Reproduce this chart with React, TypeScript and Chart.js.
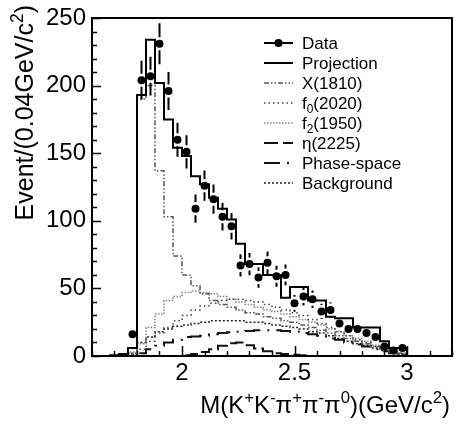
import React, { useEffect, useRef } from "react";
import { Chart, registerables } from "chart.js";

Chart.register(...registerables);

const FONT = '"Liberation Sans", Arial, Helvetica, sans-serif';

// Bin centres of M(K+K-π+π-π0) in GeV/c^2, bins 0.04 GeV wide
const massBins = [
  1.70, 1.74, 1.78, 1.82, 1.86, 1.90, 1.94, 1.98, 2.02, 2.06, 2.10, 2.14,
  2.18, 2.22, 2.26, 2.30, 2.34, 2.38, 2.42, 2.46, 2.50, 2.54, 2.58, 2.62,
  2.66, 2.70, 2.74, 2.78, 2.82, 2.86, 2.90, 2.94, 2.98, 3.02,
];
const BIN_HALF = 0.02;

// Observed events per bin
const dataCounts = [
  null, null, 16, 204, 207, 231, 196, 160, 151, 109, 126, 116,
  103, 96, 67, 68, 58, 69, 59, 60, 39, 44, 42, 33,
  34, 24, 20, 20, 17, 14, 7, 4, 6, null,
];
const dataErrors = [
  0, 0, 4.0, 14.3, 14.4, 15.2, 14.0, 12.6, 12.3, 10.4, 11.2, 10.8,
  10.1, 9.8, 8.2, 8.2, 7.6, 8.3, 7.7, 7.7, 6.2, 6.6, 6.5, 5.7,
  5.8, 4.9, 4.5, 4.5, 4.1, 3.7, 2.6, 2.0, 2.4, 0,
];

// Fit projection and its components
const projection = [
  0.5, 1.5, 6, 193, 234, 202, 175, 154, 148, 133, 127, 117,
  109, 101, 83, 68, 68, 60, 60, 43, 51, 51, 41, 41,
  29, 28, 28, 21, 21, 21, 11, 6, 6, 0,
];
const x1810 = [
  0, 0, 2, 190, 200, 137, 103, 74, 60, 52, 46, 41,
  38, 36, 34, 32, 31, 29, 28, 26, 25, 23, 21, 19,
  17, 15, 13, 11, 9, 7, 5, 3, 2, 0,
];
const f02020 = [
  0, 0, 1, 5, 11, 17, 21, 26, 30, 34, 37, 39,
  41, 42, 42, 41, 40, 38, 36, 34, 32, 30, 27, 24,
  21, 18, 15, 12, 10, 7, 5, 3, 1, 0,
];
const f21950 = [
  0, 0, 3, 9, 21, 31, 41, 44, 47, 48, 47, 46,
  44, 42, 40, 38, 36, 34, 33, 31, 29, 27, 25, 23,
  20, 18, 15, 13, 11, 8, 6, 4, 2, 0,
];
const eta2225 = [
  0, 0, 0, 0, 0, 0, 0, 0, 0.5, 1.5, 3, 5,
  7.5, 9.5, 10, 8, 5.5, 3.5, 2, 1.5, 1, 0.5, 0, 0,
  0, 0, 0, 0, 0, 0, 0, 0, 0, 0,
];
const phaseSpace = [
  0, 0, 0.5, 2, 5, 7.5, 10, 12, 14, 14.5, 15, 16,
  17, 17.5, 18, 18.5, 19, 19, 19, 18.5, 18, 17, 16, 15,
  13, 12, 10, 8.5, 7, 5, 3.5, 2, 1, 0,
];
const background = [
  0, 0, 2, 10, 14, 18, 20, 22, 23, 24, 25, 26,
  26, 26, 26, 25, 25, 24, 23, 22, 21, 20, 18, 17,
  15, 13, 11, 9, 8, 6, 4, 3, 1, 0,
];

const xLabelTicks = [2, 2.5, 3];
const yLabelTicks = [0, 50, 100, 150, 200, 250];

type Style = { color: string; width: number; dash: number[] };
const styles: Record<string, Style> = {
  projection: { color: "#000", width: 2, dash: [] },
  x1810: { color: "#555", width: 1.5, dash: [5, 2, 1.5, 2, 1.5, 2] },
  f02020: { color: "#444", width: 1.5, dash: [1.5, 3] },
  f21950: { color: "#888", width: 1.5, dash: [1.5, 1.5] },
  eta2225: { color: "#111", width: 2, dash: [14, 5] },
  phaseSpace: { color: "#111", width: 2, dash: [16, 7, 2, 7] },
  background: { color: "#222", width: 1.5, dash: [2, 2] },
};

type Part = { t: string; sup?: boolean; sub?: boolean };
const legendEntries: { parts: Part[]; key: string }[] = [
  { parts: [{ t: "Data" }], key: "data" },
  { parts: [{ t: "Projection" }], key: "projection" },
  { parts: [{ t: "X(1810)" }], key: "x1810" },
  { parts: [{ t: "f" }, { t: "0", sub: true }, { t: "(2020)" }], key: "f02020" },
  { parts: [{ t: "f" }, { t: "2", sub: true }, { t: "(1950)" }], key: "f21950" },
  { parts: [{ t: "η(2225)" }], key: "eta2225" },
  { parts: [{ t: "Phase-space" }], key: "phaseSpace" },
  { parts: [{ t: "Background" }], key: "background" },
];

const yTitle: Part[] = [{ t: "Event/(0.04GeV/c" }, { t: "2", sup: true }, { t: ")" }];
const xTitle: Part[] = [
  { t: "M(K" }, { t: "+", sup: true }, { t: "K" }, { t: "-", sup: true },
  { t: "π" }, { t: "+", sup: true }, { t: "π" }, { t: "-", sup: true },
  { t: "π" }, { t: "0", sup: true }, { t: ")(GeV/c" }, { t: "2", sup: true }, { t: ")" },
];

function histPoints(values: number[]) {
  const pts: { x: number; y: number }[] = [];
  const last = values.length - 1;
  pts.push({ x: massBins[0] - BIN_HALF, y: 0 });
  values.forEach((v, i) => pts.push({ x: massBins[i] - BIN_HALF, y: v }));
  pts.push({ x: massBins[last] + BIN_HALF, y: values[last] });
  pts.push({ x: massBins[last] + BIN_HALF, y: 0 });
  return pts;
}

function richWidth(ctx: CanvasRenderingContext2D, parts: Part[], size: number) {
  let w = 0;
  for (const p of parts) {
    const s = p.sup || p.sub ? size * 0.7 : size;
    ctx.font = `${s}px ${FONT}`;
    w += ctx.measureText(p.t).width;
  }
  return w;
}

function drawRich(ctx: CanvasRenderingContext2D, parts: Part[], x: number, y: number, size: number) {
  let cx = x;
  ctx.textAlign = "left";
  ctx.textBaseline = "alphabetic";
  for (const p of parts) {
    const s = p.sup || p.sub ? size * 0.7 : size;
    ctx.font = `${s}px ${FONT}`;
    const dy = p.sup ? -size * 0.42 : p.sub ? size * 0.25 : 0;
    ctx.fillText(p.t, cx, y + dy);
    cx += ctx.measureText(p.t).width;
  }
}

const decorations = {
  id: "decorations",
  afterDatasetsDraw(chart: any) {
    const { ctx, scales } = chart;
    const xs = scales.x;
    const ys = scales.y;
    ctx.save();
    ctx.strokeStyle = "#000";
    ctx.lineWidth = 2;
    const gap = 6.5;
    dataCounts.forEach((v, i) => {
      if (v == null) return;
      const px = xs.getPixelForValue(massBins[i]);
      const py = ys.getPixelForValue(v);
      const top = ys.getPixelForValue(v + dataErrors[i]);
      const bot = ys.getPixelForValue(Math.max(0, v - dataErrors[i]));
      ctx.beginPath();
      if (py - gap > top) {
        ctx.moveTo(px, top);
        ctx.lineTo(px, py - gap);
      }
      if (py + gap < bot) {
        ctx.moveTo(px, py + gap);
        ctx.lineTo(px, bot);
      }
      ctx.stroke();
    });
    ctx.restore();
  },
  afterDraw(chart: any) {
    const { ctx, chartArea: a, scales } = chart;
    const xs = scales.x;
    const ys = scales.y;
    ctx.save();
    ctx.fillStyle = "#000";
    ctx.strokeStyle = "#000";

    // frame
    ctx.lineWidth = 2;
    ctx.setLineDash([]);
    ctx.strokeRect(a.left, a.top, a.right - a.left, a.bottom - a.top);

    // inward tick marks
    ctx.lineWidth = 1.5;
    ctx.beginPath();
    for (let v = 0; v <= 250; v += 10) {
      const py = Math.round(ys.getPixelForValue(v)) + 0.5;
      const len = v % 50 === 0 ? 9 : 5;
      ctx.moveTo(a.left, py);
      ctx.lineTo(a.left + len, py);
    }
    for (let k = 16; k <= 32; k++) {
      const px = Math.round(xs.getPixelForValue(k / 10)) + 0.5;
      const len = k % 5 === 0 ? 10 : 5;
      ctx.moveTo(px, a.bottom);
      ctx.lineTo(px, a.bottom - len);
    }
    ctx.stroke();

    // axis titles
    const xSize = 24;
    const xw = richWidth(ctx, xTitle, xSize);
    drawRich(ctx, xTitle, 450 - xw, 413, xSize);

    const ySize = 25;
    const yw = richWidth(ctx, yTitle, ySize);
    ctx.save();
    ctx.translate(33, 5);
    ctx.rotate(-Math.PI / 2);
    drawRich(ctx, yTitle, -yw, 0, ySize);
    ctx.restore();

    // legend
    const x0 = 264;
    const x1 = 293;
    legendEntries.forEach((e, i) => {
      const cy = 43 + 20 * i;
      if (e.key === "data") {
        ctx.setLineDash([]);
        ctx.lineWidth = 2;
        ctx.strokeStyle = "#000";
        ctx.beginPath();
        ctx.moveTo(x0, cy);
        ctx.lineTo(x1, cy);
        ctx.stroke();
        ctx.beginPath();
        ctx.arc((x0 + x1) / 2, cy, 4, 0, Math.PI * 2);
        ctx.fill();
      } else {
        const st = styles[e.key];
        ctx.setLineDash(st.dash);
        ctx.lineWidth = st.width;
        ctx.strokeStyle = st.color;
        ctx.beginPath();
        ctx.moveTo(x0, cy);
        ctx.lineTo(x1, cy);
        ctx.stroke();
      }
      ctx.setLineDash([]);
      ctx.fillStyle = "#000";
      drawRich(ctx, e.parts, 302, cy + 6, 17);
    });
    ctx.restore();
  },
};

function histDataset(label: string, values: number[], key: string, order: number) {
  const st = styles[key];
  return {
    label,
    data: histPoints(values),
    stepped: true,
    borderColor: st.color,
    borderWidth: st.width,
    borderDash: st.dash,
    pointRadius: 0,
    fill: false,
    order,
  };
}

export default function App() {
  const ref = useRef<HTMLCanvasElement>(null);

  useEffect(() => {
    document.body.style.margin = "0";
    const dataPoints = dataCounts
      .map((v, i) => (v == null ? null : { x: massBins[i], y: v }))
      .filter((p) => p !== null);

    const chart = new Chart(ref.current!, {
      type: "line",
      data: {
        datasets: [
          {
            label: "Data",
            data: dataPoints as any,
            showLine: false,
            pointRadius: 4,
            pointBackgroundColor: "#000",
            pointBorderColor: "#000",
            pointBorderWidth: 0,
            order: 0,
          },
          histDataset("Projection", projection, "projection", 1),
          histDataset("X(1810)", x1810, "x1810", 2),
          histDataset("f0(2020)", f02020, "f02020", 3),
          histDataset("f2(1950)", f21950, "f21950", 4),
          histDataset("η(2225)", eta2225, "eta2225", 5),
          histDataset("Phase-space", phaseSpace, "phaseSpace", 6),
          histDataset("Background", background, "background", 7),
        ] as any,
      },
      options: {
        animation: false,
        responsive: false,
        devicePixelRatio: 1,
        layout: { padding: { top: 13, right: 11, left: 0, bottom: 0 } },
        plugins: { legend: { display: false }, tooltip: { enabled: false } },
        scales: {
          x: {
            type: "linear",
            min: 1.6,
            max: 3.2,
            grid: { display: false, drawTicks: false },
            border: { display: false },
            afterBuildTicks: (s: any) => {
              s.ticks = xLabelTicks.map((value) => ({ value }));
            },
            afterFit: (s: any) => {
              s.height = 68;
            },
            ticks: {
              color: "#000",
              font: { family: FONT, size: 24, lineHeight: 1 },
              padding: 5,
              maxRotation: 0,
              autoSkip: false,
              callback: (v: any) => String(v),
            },
          },
          y: {
            type: "linear",
            min: 0,
            max: 250,
            grid: { display: false, drawTicks: false },
            border: { display: false },
            afterBuildTicks: (s: any) => {
              s.ticks = yLabelTicks.map((value) => ({ value }));
            },
            afterFit: (s: any) => {
              s.width = 92;
            },
            ticks: {
              color: "#000",
              font: { family: FONT, size: 24, lineHeight: 1 },
              padding: 6,
              callback: (v: any) => String(v),
            },
          },
        },
      } as any,
      plugins: [decorations],
    });
    return () => chart.destroy();
  }, []);

  return (
    <div style={{ width: 463, height: 424 }}>
      <canvas ref={ref} width={463} height={424} style={{ display: "block" }} />
    </div>
  );
}
